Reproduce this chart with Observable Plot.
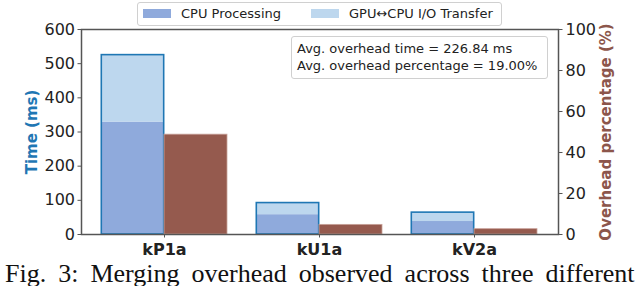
<!DOCTYPE html>
<html>
<head>
<meta charset="utf-8">
<script src="https://cdn.jsdelivr.net/npm/d3@7"></script>
<script src="https://cdn.jsdelivr.net/npm/@observablehq/plot@0.6"></script>
<style>
  html, body { margin: 0; padding: 0; background: #fff; overflow: hidden; }
  body { width: 640px; height: 286px; position: relative; font-family: "DejaVu Sans", sans-serif; }
  #chart { position: absolute; left: 0; top: 0; }
  .legend { position: absolute; left: 137px; top: 2px; width: 363px; height: 22px;
    border: 1px solid #d0d0d0; border-radius: 3px; background: rgba(255,255,255,0.8);
    font-size: 13px; color: #222; }
  .legend .sw { position: absolute; top: 6px; width: 28px; height: 9px; }
  .legend .lb { position: absolute; top: 3px; line-height: 16px; white-space: nowrap; }
  .note { position: absolute; left: 291px; top: 36px; width: 255px; height: 41px;
    border: 1px solid #d0d0d0; border-radius: 3px; background: #fff; font-size: 13px; color: #222; }
  .note div { position: absolute; left: 5px; white-space: nowrap; line-height: 16px; }
  .caption { position: absolute; left: 5px; top: 264px; font-family: "Liberation Serif", serif;
    font-size: 26px; line-height: 20px; word-spacing: 5.5px; white-space: nowrap; color: #111; }
</style>
</head>
<body>
<div id="chart"></div>
<script>
// ---- data ----
const categories = ["kP1a", "kU1a", "kV2a"];
const cpuProcessingMs = [329, 58, 38];
const ioTransferMs = [196, 34, 26];
const overheadPct = [48.7, 4.7, 2.6];
const timeTicks = [0, 100, 200, 300, 400, 500, 600];
const pctTicks = [0, 20, 40, 60, 80, 100];
const seriesNames = ["CPU Processing", "GPU\u2194CPU I/O Transfer"];
const noteLines = ["Avg. overhead time = 226.84 ms", "Avg. overhead percentage = 19.00%"];
const captionText = "Fig. 3: Merging overhead observed across three different";

// ---- layout / style ----
const W = 640, H = 262;
const mL = 81, mR = 82, mT = 29, mB = 28;
const padIn = 0.187, padOut = 0.132;
const colors = ["#8faadc", "#bdd7ee"];
const brown = "#955a4e";
const blue = "#1f77b4";
const pctToMs = 600 / 100;   // right axis maps 0–100 % onto 0–600 ms
const step = (W - mL - mR) / (categories.length - padIn + 2 * padOut);
const half = step * (1 - padIn) / 2;

const stacked = categories.flatMap((c, i) => [
  {cat: c, part: seriesNames[0], v: cpuProcessingMs[i]},
  {cat: c, part: seriesNames[1], v: ioTransferMs[i]}
]);
const totals = categories.map((c, i) => ({cat: c, total: cpuProcessingMs[i] + ioTransferMs[i]}));
const pcts = categories.map((c, i) => ({cat: c, pct: overheadPct[i]}));

const plot = Plot.plot({
  width: W, height: H,
  marginLeft: mL, marginRight: mR, marginTop: mT, marginBottom: mB,
  style: {fontFamily: "DejaVu Sans, sans-serif", color: "#222", background: "transparent", overflow: "visible"},
  x: {type: "band", domain: categories, paddingInner: padIn, paddingOuter: padOut, label: null},
  y: {domain: [0, 600], label: null},
  color: {domain: seriesNames, range: colors},
  marks: [
    Plot.barY(stacked, {x: "cat", y: "v", fill: "part", insetRight: half}),
    Plot.barY(totals, {x: "cat", y: "total", fill: "none", stroke: blue, strokeWidth: 1.6, insetRight: half + 0.3, insetLeft: 0.3}),
    Plot.barY(pcts, {x: "cat", y: d => d.pct * pctToMs, fill: brown, stroke: "#c9a29a", strokeWidth: 0.8, insetLeft: half}),
    Plot.frame({stroke: "#555", strokeWidth: 1.5}),
    Plot.axisY({ticks: timeTicks, tickSize: 3.5, tickPadding: 3, fontSize: 16, label: null, stroke: "#555"}),
    Plot.axisY({anchor: "right", ticks: pctTicks.map(p => p * pctToMs), tickFormat: d => d / pctToMs,
      tickSize: 3.5, tickPadding: 3.5, fontSize: 16, label: null, stroke: "#555"}),
    Plot.axisX({tickSize: 3.5, tickPadding: 5.5, fontSize: 16, fontWeight: "bold", label: null, stroke: "#555"}),
    Plot.text(["Time (ms)"], {frameAnchor: "left", dx: -49, rotate: -90, text: d => d,
      textAnchor: "middle", fontSize: 15, fontWeight: "bold", fill: blue, lineAnchor: "middle"}),
    Plot.text(["Overhead percentage (%)"], {frameAnchor: "right", dx: 48, rotate: -90, text: d => d,
      textAnchor: "middle", fontSize: 15, fontWeight: "bold", fill: "#8c564b", lineAnchor: "middle"})
  ]
});
document.getElementById("chart").appendChild(plot);

// legend (above the plot)
const legend = document.createElement("div");
legend.className = "legend";
const swX = [5, 173], lbX = [43, 211];
seriesNames.forEach((name, i) => {
  const sw = document.createElement("div");
  sw.className = "sw"; sw.style.left = swX[i] + "px"; sw.style.background = colors[i];
  const lb = document.createElement("div");
  lb.className = "lb"; lb.style.left = lbX[i] + "px"; lb.textContent = name;
  legend.appendChild(sw); legend.appendChild(lb);
});
document.body.appendChild(legend);

// annotation box
const note = document.createElement("div");
note.className = "note";
noteLines.forEach((t, i) => {
  const d = document.createElement("div");
  d.style.top = (4 + i * 17) + "px";
  d.textContent = t;
  note.appendChild(d);
});
document.body.appendChild(note);

// caption
const cap = document.createElement("div");
cap.className = "caption";
cap.textContent = captionText;
document.body.appendChild(cap);
</script>
</body>
</html>
